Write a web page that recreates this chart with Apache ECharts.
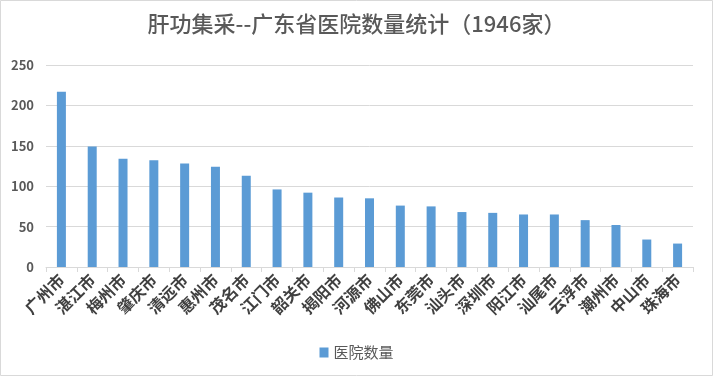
<!DOCTYPE html>
<html>
<head>
<meta charset="utf-8">
<script src="https://cdn.jsdelivr.net/npm/echarts@6/dist/echarts.min.js"></script>
<style>
html,body{margin:0;padding:0;background:#fff;}
#c{width:713px;height:376px;}
</style>
</head>
<body>
<div id="c"></div>
<script>
const titleText = '肝功集采--广东省医院数量统计（1946家）';
const seriesName = '医院数量';
const categories = ['广州市','湛江市','梅州市','肇庆市','清远市','惠州市','茂名市','江门市','韶关市','揭阳市','河源市','佛山市','东莞市','汕头市','深圳市','阳江市','汕尾市','云浮市','潮州市','中山市','珠海市'];
const values = [217,149,134,132,128,124,113,96,92,86,85,76,75,68,67,65,65,58,52,34,29];
const yMin = 0, yMax = 250, yInterval = 50;

const font = '"Noto Sans CJK SC", "Noto Sans", sans-serif';
const chart = echarts.init(document.getElementById('c'));
chart.setOption({
  animation: false,
  backgroundColor: '#fff',
  title: {
    text: titleText,
    left: 'center',
    top: 8,
    textStyle: {fontFamily: font, fontSize: 22, fontWeight: 500, color: '#595959'}
  },
  legend: {
    data: [seriesName],
    left: 'center',
    top: 340,
    icon: 'rect',
    itemWidth: 9,
    itemHeight: 10,
    itemGap: 5,
    textStyle: {fontFamily: font, fontSize: 15, color: '#595959'}
  },
  grid: {left: 46, right: 20, top: 65, bottom: 109, containLabel: false},
  xAxis: {
    type: 'category',
    data: categories,
    axisLine: {lineStyle: {color: '#d9d9d9', width: 1}},
    axisTick: {show: true, length: 5, lineStyle: {color: '#d9d9d9'}},
    axisLabel: {rotate: 45, interval: 0, margin: 10, fontFamily: font, fontSize: 16, fontWeight: 'bold', color: '#404040'}
  },
  yAxis: {
    type: 'value',
    min: yMin, max: yMax, interval: yInterval,
    axisLine: {show: false},
    axisTick: {show: false},
    splitLine: {lineStyle: {color: '#d9d9d9', width: 1}},
    axisLabel: {margin: 12, fontFamily: font, fontSize: 13, fontWeight: 'bold', color: '#595959'}
  },
  series: [{
    name: seriesName,
    type: 'bar',
    data: values,
    barWidth: 9,
    itemStyle: {color: '#5b9bd5'}
  }],
  graphic: [{
    type: 'rect',
    shape: {x: 0.5, y: 0.5, width: 712, height: 375},
    style: {fill: 'none', stroke: '#d9d9d9', lineWidth: 1},
    silent: true
  }]
});
</script>
</body>
</html>
